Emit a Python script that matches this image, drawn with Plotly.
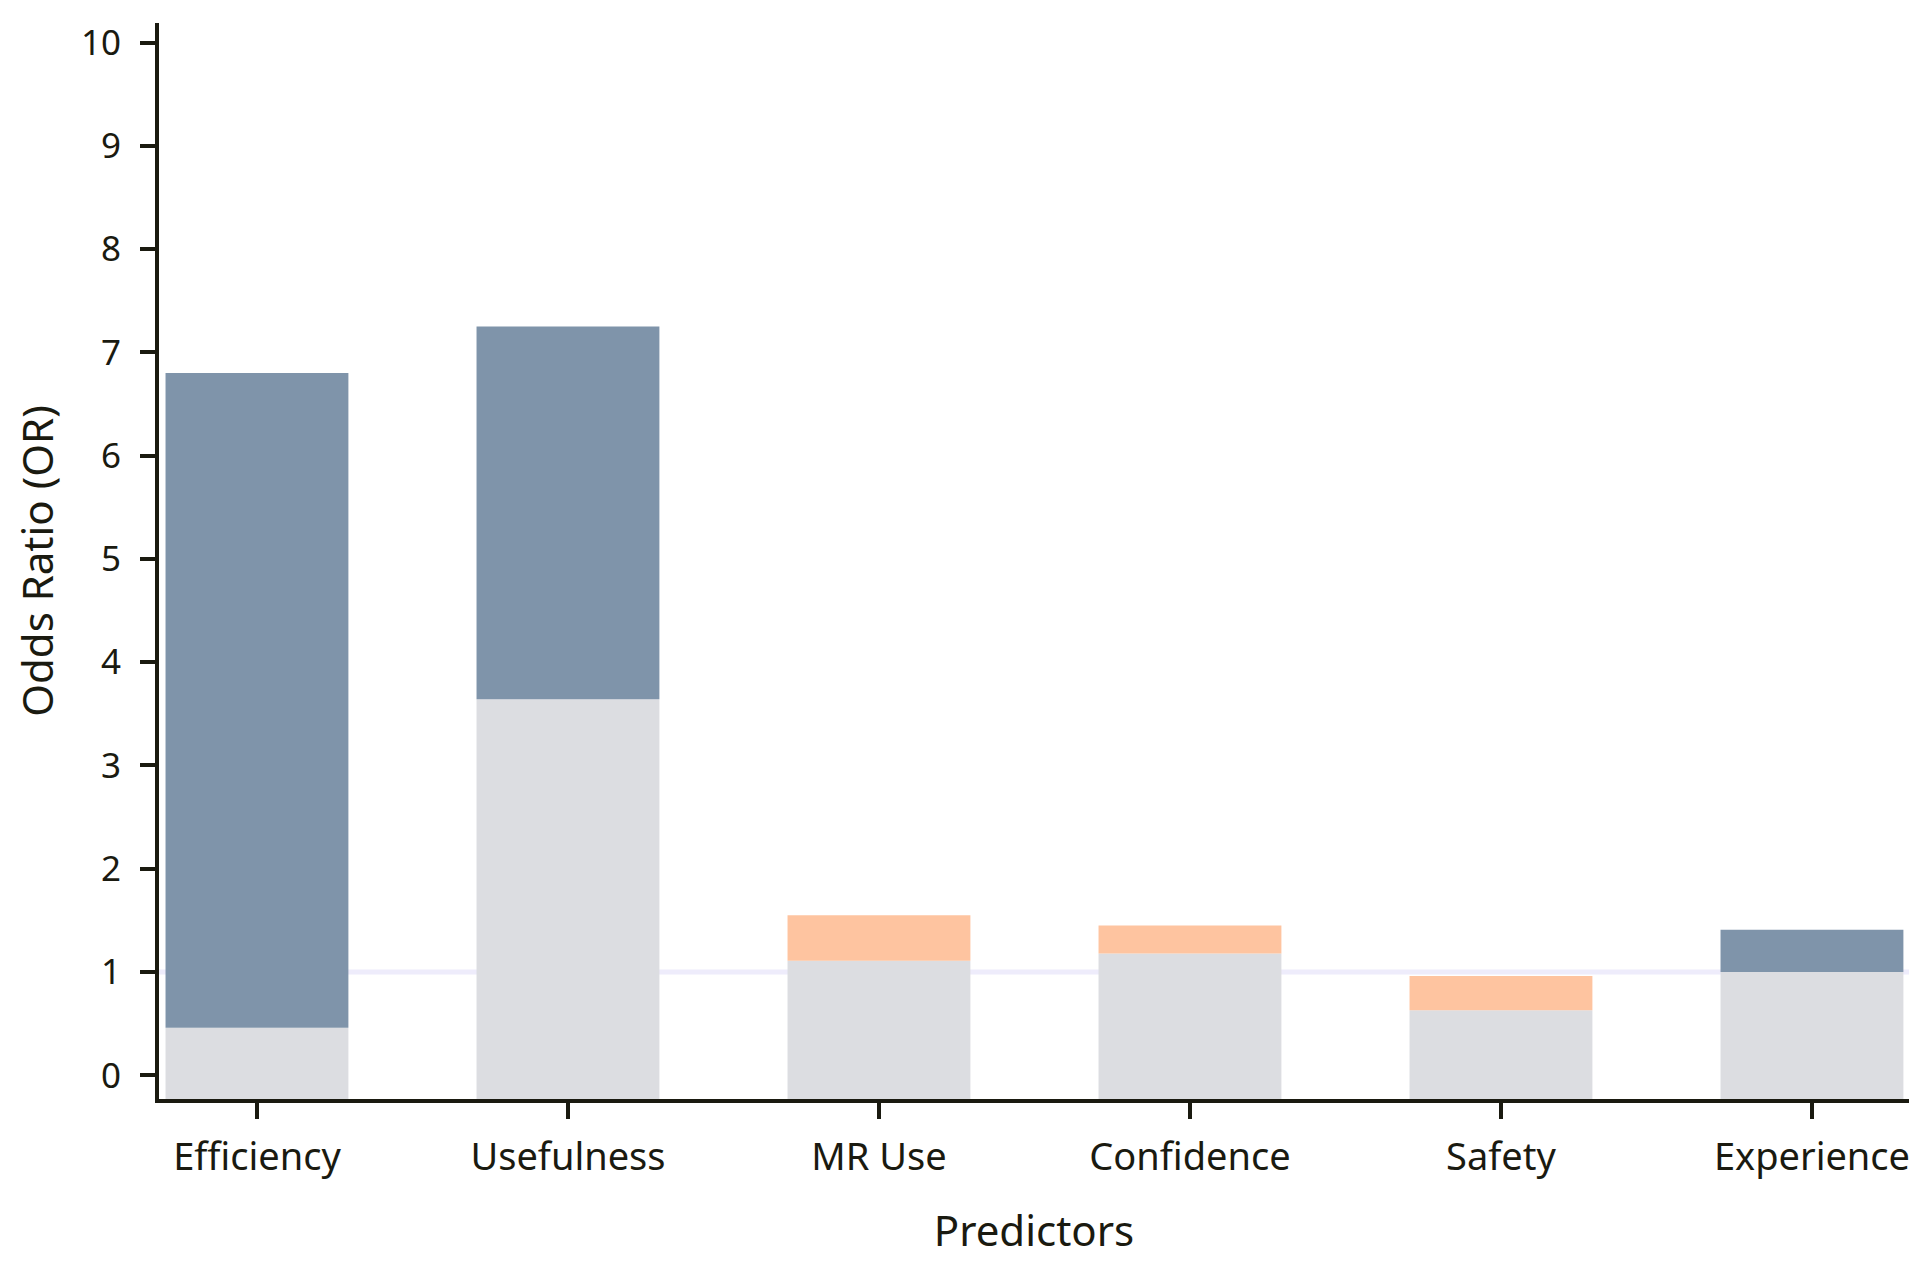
import plotly.graph_objects as go

predictors = ["Efficiency", "Usefulness", "MR Use", "Confidence", "Safety", "Experience"]
ci_lower = [0.46, 3.64, 1.11, 1.18, 0.63, 1.00]
ci_upper = [6.80, 7.25, 1.55, 1.45, 0.96, 1.41]
significant = [True, True, False, False, False, True]
y_ticks = [0, 1, 2, 3, 4, 5, 6, 7, 8, 9, 10]

Y_MIN, Y_MAX = -0.23, 10.19
BLUE = "#7f94aa"
ORANGE = "#fec4a0"
GRAY = "#dcdde1"
INK = "#1a1a10"
FONT = "Noto Sans"

x_idx = list(range(len(predictors)))
upper_colors = [BLUE if s else ORANGE for s in significant]

fig = go.Figure()
fig.add_trace(go.Bar(
    x=x_idx, y=[lo - Y_MIN for lo in ci_lower], base=[Y_MIN] * len(ci_lower),
    marker=dict(color=GRAY, line=dict(width=0)), width=0.588, hoverinfo="skip",
    showlegend=False,
))
fig.add_trace(go.Bar(
    x=x_idx, y=[hi - lo for lo, hi in zip(ci_lower, ci_upper)], base=ci_lower,
    marker=dict(color=upper_colors, line=dict(width=0)), width=0.588,
    showlegend=False,
))

fig.add_shape(type="line", xref="paper", yref="y", x0=0, x1=1, y0=1, y1=1,
              line=dict(color="#eeecfb", width=5), layer="below")

fig.update_layout(
    width=1912, height=1250,
    margin=dict(l=151, r=10, t=15, b=152),
    paper_bgcolor="white", plot_bgcolor="white",
    barmode="overlay",
    font=dict(family=FONT, color=INK),
    xaxis=dict(
        range=[-0.315, 5.312], tickmode="array", tickvals=x_idx, ticktext=predictors,
        showline=True, linewidth=4, linecolor=INK, showgrid=False, zeroline=False,
        ticks="outside", ticklen=16, tickwidth=4, tickcolor=INK,
        tickfont=dict(size=38, family=FONT, color=INK), ticklabelstandoff=5,
        title=dict(text="Predictors", font=dict(size=42, family=FONT, color=INK), standoff=38),
    ),
    yaxis=dict(
        range=[Y_MIN, Y_MAX], tickmode="array", tickvals=y_ticks,
        showline=True, linewidth=4, linecolor=INK, showgrid=False, zeroline=False,
        ticks="outside", ticklen=15, tickwidth=4, tickcolor=INK,
        tickfont=dict(size=35, family=FONT, color=INK), ticklabelstandoff=12,
        title=dict(text="Odds Ratio (OR)", font=dict(size=42, family=FONT, color=INK), standoff=24),
    ),
)

fig.write_html("out.html")
